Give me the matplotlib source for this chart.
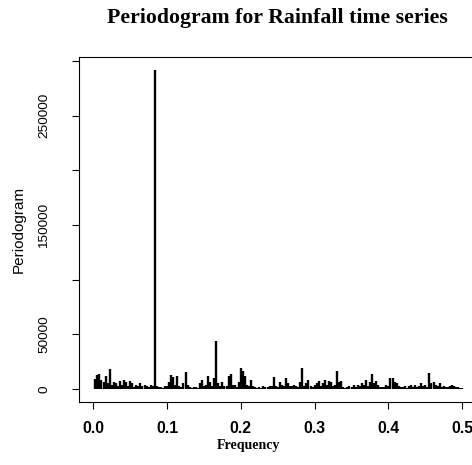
import matplotlib
matplotlib.use("Agg")
import matplotlib.pyplot as plt

# monthly rainfall series, N = 360 months -> Fourier frequencies k/360
n_months = 360
periodogram = [
    9000, 13000, 14000, 8000, 6000, 12000, 5000, 18500, 4000, 6000,
    5000, 3000, 7000, 4000, 8000, 6000, 3000, 7000, 5000, 2000,
    4000, 3000, 5000, 2500, 4000, 3000, 2000, 3500, 3000, 292000,
    3000, 1500, 2000, 1000, 2500, 3000, 6000, 12900, 11000, 4000,
    12000, 3000, 2000, 5000, 15300, 4000, 2000, 1000, 1500, 2000,
    1000, 5000, 8000, 3000, 4000, 12000, 6000, 3000, 10000, 44000,
    5000, 3000, 6000, 2500, 3000, 12000, 13500, 4000, 3500, 2000,
    6000, 19000, 16000, 12000, 4000, 3000, 8000, 2500, 1500, 1000,
    2000, 1000, 3000, 2000, 1500, 2500, 3000, 10700, 3000, 2000,
    6000, 4000, 3000, 9800, 5000, 3000, 2500, 4000, 3000, 2000,
    6000, 19000, 3000, 5000, 8500, 3000, 2000, 4000, 5000, 7000,
    3000, 5000, 8000, 4000, 7000, 6000, 3000, 4000, 16200, 6000,
    7000, 2000, 1000, 1500, 3000, 2000, 3500, 2000, 4000, 3000,
    5000, 4000, 8000, 3000, 6000, 13800, 5000, 7000, 4000, 2000,
    1500, 2000, 4000, 3000, 10000, 9800, 6000, 5000, 3000, 2000,
    1500, 3000, 1000, 2500, 3500, 1500, 4000, 2000, 3000, 5000,
    3000, 4000, 2000, 14700, 5000, 6000, 4000, 3000, 5000, 2000,
    3000, 2000, 1500, 2500, 4000, 3000, 2000, 1500, 1000, 500,
]
frequency = [k / n_months for k in range(1, len(periodogram) + 1)]

xticks = [0.0, 0.1, 0.2, 0.3, 0.4, 0.5]
xticklabels = ["0.0", "0.1", "0.2", "0.3", "0.4", "0.5"]
yticks = [0, 50000, 100000, 150000, 200000, 250000, 300000]
yticklabels = ["0", "50000", "", "150000", "", "250000", ""]

W, H = 472, 465
fig = plt.figure(figsize=(W / 100, H / 100), dpi=100)
ax = fig.add_axes([78.5 / W, 63.3 / H, 398.5 / W, 344.7 / H])

ax.vlines(frequency, 0, periodogram, color="black", lw=1.7)
ax.set_xlim(-0.02, 0.52)
ax.set_ylim(-11700, 303700)

ax.set_xticks(xticks)
ax.set_xticklabels(xticklabels, fontfamily="Liberation Sans",
                   fontweight="bold", fontsize=11.4)
ax.set_yticks(yticks)
ax.set_yticklabels(yticklabels, fontfamily="Liberation Sans",
                   fontsize=9.7, rotation=90, va="center")
ax.tick_params(axis="x", length=5, width=0.8, pad=9)
ax.tick_params(axis="y", length=5, width=0.8, pad=15.5)
for s in ax.spines.values():
    s.set_linewidth(0.8)

ax.set_ylabel("Periodogram", fontfamily="Liberation Sans", fontsize=11)
ax.yaxis.set_label_coords(-0.132, 0.5)

fig.text(277.5 / W, 1 - 18 / H, "Periodogram for Rainfall time series",
         fontfamily="Liberation Serif", fontweight="bold", fontsize=15.7,
         ha="center", va="center")
fig.text(248 / W, 1 - 445 / H, "Frequency",
         fontfamily="Liberation Serif", fontweight="bold", fontsize=10,
         ha="center", va="center")

fig.savefig("out.png", dpi=100)
